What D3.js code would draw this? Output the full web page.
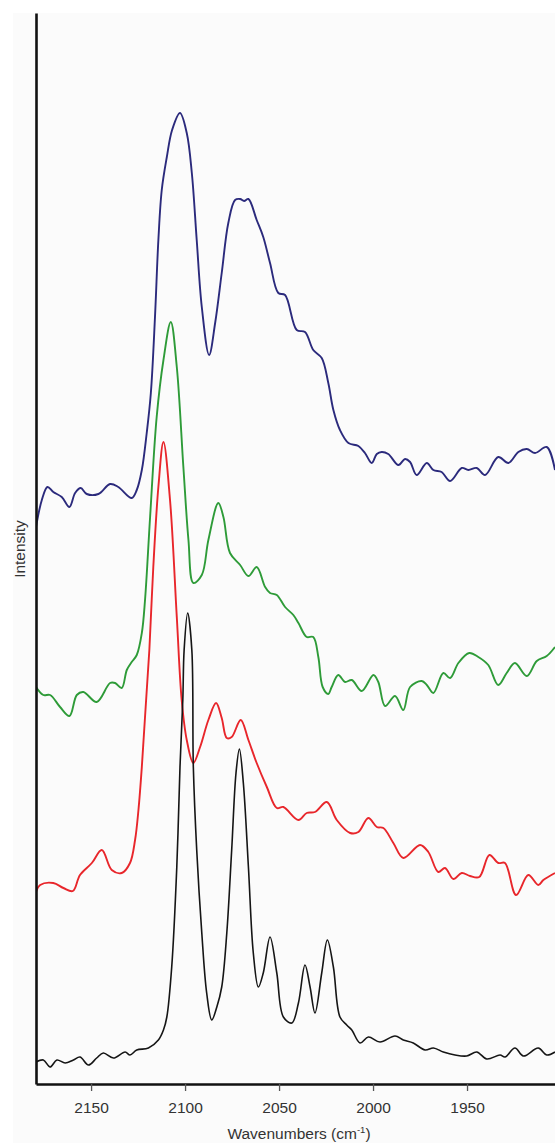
<!DOCTYPE html>
<html>
<head>
<meta charset="utf-8">
<script src="https://cdn.jsdelivr.net/npm/d3@7"></script>
<style>
  body { margin: 0; background: #fff; }
  svg { display: block; }
  .x-axis text { font-family: "Liberation Sans", Arial, sans-serif; font-size: 15.5px; fill: #333; }
</style>
</head>
<body>
<svg id="chart" width="555" height="1143"></svg>
<script>
// wavenumbers (cm-1) and intensities (arb. units)
const tickValues = [2150, 2100, 2050, 2000, 1950];

const blueWn = [2179.3, 2176.2, 2173.2, 2170.1, 2165.6, 2161.5, 2158.5, 2155.5, 2152.3, 2146.1, 2139.9, 2135.5, 2128.4, 2125.7, 2123, 2120.4, 2118.2, 2116, 2114.2, 2112.4, 2109.7, 2106.9, 2102.7, 2099.1, 2096.4, 2093.8, 2091.1, 2087.2, 2084, 2080.5, 2077, 2073.4, 2070.7, 2068.6, 2066.3, 2061.9, 2058.4, 2054.8, 2050.4, 2046.8, 2040.6, 2036.2, 2031.8, 2027.3, 2023.8, 2021.1, 2017.6, 2013.1, 2007.8, 2004.3, 2000.7, 1998, 1995.4, 1991.9, 1986.5, 1983, 1980.3, 1976.8, 1971.4, 1967.9, 1963.5, 1959, 1952.8, 1949.3, 1944.8, 1940.4, 1933.4, 1928, 1922.7, 1918.2, 1913.8, 1907.6, 1903.2];
const blueI = [55.7, 58.4, 59.7, 59.2, 58.7, 57.7, 59.1, 59.6, 59.0, 59.0, 60.0, 59.7, 58.6, 59.4, 61.4, 65.1, 69.1, 76.7, 84.4, 89.4, 92.7, 95.4, 97.1, 95.1, 91.1, 84.4, 77.7, 72.9, 76.1, 81.1, 86.1, 88.4, 88.5, 88.3, 88.5, 86.4, 84.7, 82.1, 79.1, 78.9, 75.4, 75.2, 73.4, 72.6, 70.1, 67.4, 65.4, 64.1, 63.8, 63.1, 62.1, 63.0, 63.2, 63.0, 61.9, 62.5, 62.2, 60.9, 62.1, 61.4, 61.2, 60.3, 61.6, 61.4, 61.6, 60.9, 62.7, 62.1, 63.2, 63.5, 63.1, 63.7, 61.4];

const greenWn = [2179.3, 2175.4, 2171.8, 2166.5, 2161.5, 2157.6, 2154.1, 2147, 2139.9, 2137.2, 2133.7, 2131, 2128.4, 2125.7, 2123, 2121.3, 2118.6, 2115.1, 2111.5, 2107.6, 2104.4, 2100.9, 2098.2, 2095.6, 2091.1, 2087.6, 2082.3, 2079.6, 2076.1, 2070.7, 2066.3, 2061.9, 2057.4, 2054.8, 2051.2, 2046.8, 2042.4, 2039.7, 2035.3, 2031.8, 2029.1, 2026.8, 2023.8, 2022, 2018.5, 2014.9, 2011.3, 2006, 1999.8, 1997.2, 1993.6, 1988.3, 1983.9, 1980.3, 1974.1, 1971.4, 1967.9, 1962.6, 1959, 1954.6, 1948.8, 1944, 1938.7, 1933.4, 1928.9, 1924.5, 1918.2, 1912.9, 1907.6, 1903.2];
const greenI = [39.7, 38.9, 38.9, 37.7, 36.8, 38.9, 39.2, 38.2, 40.1, 40.1, 39.6, 41.4, 42.2, 42.9, 45.1, 48.4, 56.7, 66.7, 72.4, 76.2, 71.7, 61.7, 54.4, 50.1, 50.9, 54.4, 58.1, 56.7, 53.1, 51.9, 50.8, 51.7, 49.7, 49.1, 48.9, 47.7, 46.9, 46.1, 44.7, 44.7, 42.7, 39.7, 39.0, 39.7, 40.9, 40.2, 40.4, 39.3, 40.9, 40.2, 37.8, 38.8, 37.4, 39.7, 40.3, 39.9, 39.1, 41.1, 40.6, 42.1, 43.1, 42.7, 41.9, 39.9, 41.1, 42.1, 40.8, 42.3, 42.8, 43.7];

const redWn = [2179.3, 2177.1, 2170.1, 2164.7, 2159.7, 2155.9, 2149.6, 2144.3, 2139, 2133.7, 2129.3, 2126.6, 2124.8, 2123, 2121.3, 2119, 2116.9, 2114.2, 2111.5, 2108, 2104.4, 2101.8, 2099.1, 2095.6, 2092, 2087.6, 2083.5, 2080.5, 2077.8, 2075.2, 2070.4, 2066.3, 2061.9, 2056.5, 2051.2, 2047.7, 2039.7, 2035.3, 2030.9, 2024.6, 2019.3, 2012.2, 2007.8, 2002.5, 1998, 1994.5, 1989.2, 1983.9, 1975, 1970.6, 1965.3, 1961.7, 1957.3, 1952.8, 1948.4, 1943.5, 1938.1, 1933.4, 1929.8, 1923.9, 1917.4, 1912.1, 1909.4, 1903.2];
const redI = [19.2, 19.9, 20.1, 19.6, 19.3, 20.9, 22.1, 23.4, 21.4, 21.1, 22.1, 24.4, 27.4, 31.7, 36.7, 43.4, 51.7, 59.7, 64.2, 58.4, 46.7, 38.4, 34.4, 32.1, 33.7, 36.4, 38.1, 36.6, 34.6, 34.7, 36.4, 34.4, 32.1, 29.7, 27.6, 27.7, 26.4, 27.1, 27.2, 28.2, 26.4, 25.1, 25.2, 26.6, 25.7, 25.6, 24.1, 22.6, 23.9, 23.2, 21.2, 21.6, 20.5, 21.1, 20.8, 20.7, 22.9, 22.1, 22.1, 18.9, 20.9, 19.9, 20.4, 21.1];

const blackWn = [2179.3, 2175.4, 2171.8, 2168.2, 2163.8, 2159.4, 2155.9, 2151.4, 2147, 2143.5, 2138.1, 2131.9, 2129.3, 2125.7, 2119.5, 2114.2, 2111.5, 2109.7, 2107.1, 2104.4, 2102.7, 2101.2, 2100.5, 2098.6, 2096.4, 2095.6, 2093.8, 2091.1, 2088.5, 2085.8, 2083.1, 2080.5, 2077.8, 2075.2, 2072.9, 2071.1, 2069, 2066.3, 2063.7, 2061, 2058.4, 2054.8, 2051.2, 2047.7, 2043.2, 2039.7, 2036.2, 2033.5, 2030.9, 2027.3, 2024.3, 2021.1, 2017.6, 2014, 2011.3, 2006.9, 2002.5, 1996.3, 1988.3, 1983.9, 1978.6, 1972.3, 1967.9, 1962.6, 1956.4, 1950.2, 1944.8, 1939.5, 1932.4, 1929.8, 1924.5, 1920, 1912.1, 1907.6, 1903.2];
const blackI = [2.2, 2.4, 1.7, 2.4, 2.1, 2.4, 2.7, 1.9, 2.6, 3.1, 2.6, 3.2, 2.9, 3.4, 3.6, 4.4, 5.4, 6.7, 11.7, 21.7, 31.7, 38.4, 43.4, 47.1, 43.4, 31.7, 23.4, 15.1, 9.1, 6.4, 7.7, 9.7, 15.1, 23.4, 31.1, 33.5, 30.1, 21.7, 13.1, 9.7, 11.1, 14.7, 11.1, 6.7, 6.1, 8.1, 11.9, 9.7, 7.1, 11.1, 14.4, 11.7, 6.7, 5.9, 5.4, 4.1, 4.7, 4.2, 4.8, 4.4, 4.1, 3.4, 3.6, 3.2, 2.9, 2.8, 3.2, 2.5, 2.9, 2.7, 3.6, 2.8, 3.6, 2.9, 3.2];

const series = [
  {name: "blue", wn: blueWn, val: blueI, color: "#2b2a7c", width: 1.9},
  {name: "green", wn: greenWn, val: greenI, color: "#2e9b38", width: 1.9},
  {name: "red", wn: redWn, val: redI, color: "#e8262b", width: 1.9},
  {name: "black", wn: blackWn, val: blackI, color: "#151515", width: 1.6}
];

const svg = d3.select("#chart");
const plotLeft = 36, plotRight = 555, plotTop = 13, plotBottom = 1084;

// faint grey plot background, like the scanned figure
svg.append("rect")
   .attr("x", 13).attr("y", 13)
   .attr("width", 555 - 13).attr("height", 1143 - 13)
   .attr("fill", "#fbfbfb");

const xScale = d3.scaleLinear()
                 .domain([2179.3, 1903.2])
                 .range([plotLeft, plotRight]);

const yScale = d3.scaleLinear()
                 .domain([0, 107.1])
                 .range([plotBottom, plotTop]);

const line = d3.line()
               .x(d => xScale(d[0]))
               .y(d => yScale(d[1]))
               .curve(d3.curveCatmullRom.alpha(0.5));

svg.append("defs").append("clipPath")
   .attr("id", "plot-clip")
   .append("rect")
   .attr("x", plotLeft).attr("y", plotTop)
   .attr("width", plotRight - plotLeft).attr("height", plotBottom - plotTop);

const plot = svg.append("g").attr("clip-path", "url(#plot-clip)");

series.forEach(s => {
    const pts = s.wn.map((w, i) => [w, s.val[i]]);
    plot.append("path")
        .datum(pts)
        .attr("class", "trace " + s.name)
        .attr("fill", "none")
        .attr("stroke", s.color)
        .attr("stroke-width", s.width)
        .attr("stroke-linejoin", "round")
        .attr("d", line);
});

/// Axes
const xAxis = d3.axisBottom(xScale)
                .tickValues(tickValues)
                .tickSize(7)
                .tickSizeOuter(0)
                .tickPadding(11)
                .tickFormat(d3.format("d"));

const xg = svg.append("g")
   .attr("class", "x-axis")
   .attr("transform", "translate(0," + plotBottom + ")")
   .call(xAxis);

xg.select(".domain").attr("stroke", "#111").attr("stroke-width", 2.6);
xg.selectAll(".tick line").attr("stroke", "#555").attr("stroke-width", 1.3);

const yg = svg.append("g")
   .attr("class", "y-axis")
   .attr("transform", "translate(" + plotLeft + ",0)")
   .call(d3.axisLeft(yScale).tickValues([]).tickSizeOuter(0));

yg.select(".domain").attr("stroke", "#111").attr("stroke-width", 2.6);

// axis titles
const xt = svg.append("text")
   .attr("x", 299)
   .attr("y", 1139)
   .attr("text-anchor", "middle")
   .style("font-family", "'Liberation Sans', Arial, sans-serif")
   .style("font-size", "15.5px")
   .attr("fill", "#333")
   .text("Wavenumbers (cm");
xt.append("tspan")
   .attr("dy", -6)
   .style("font-size", "9.5px")
   .text("-1");
xt.append("tspan")
   .attr("dy", 6)
   .text(")");

svg.append("text")
   .attr("transform", "translate(25,549) rotate(-90)")
   .attr("text-anchor", "middle")
   .style("font-family", "'Liberation Sans', Arial, sans-serif")
   .style("font-size", "15.5px")
   .attr("fill", "#333")
   .text("Intensity");
</script>
</body>
</html>
